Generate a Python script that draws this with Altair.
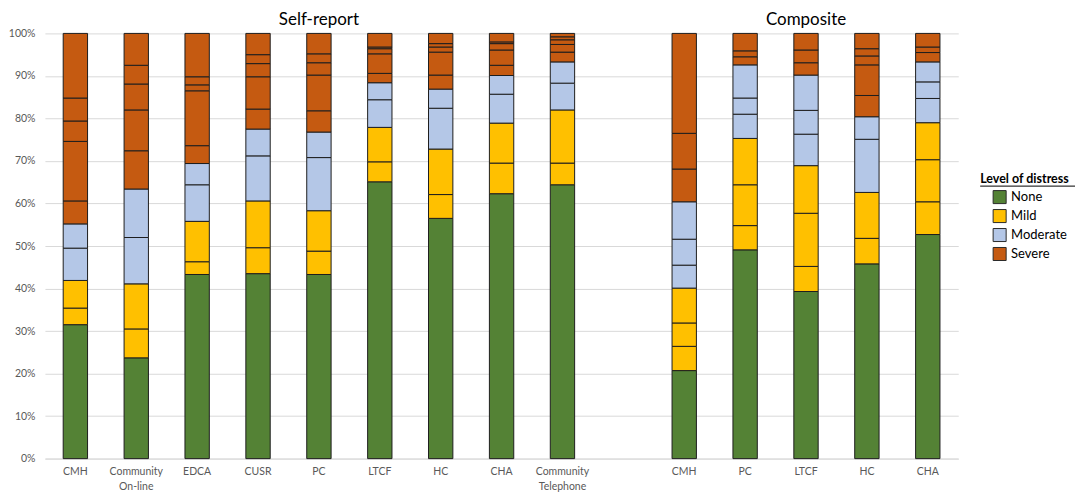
import json
import altair as alt
import pandas as pd

# ---- data ----
levels = ["None", "Mild", "Moderate", "Severe"]
colors = ["#548235", "#FFC000", "#B4C7E7", "#C55A11"]

self_labels = ["CMH", "Community\nOn-line", "EDCA", "CUSR", "PC", "LTCF", "HC", "CHA", "Community\nTelephone"]
comp_labels = ["CMH", "PC", "LTCF", "HC", "CHA"]
group_titles = ["Self-report", "Composite"]

self_none = [31.5, 23.7, 43.3, 43.5, 43.3, 65.1, 56.5, 62.3, 64.4]
self_mild = [[3.9, 6.5], [6.8, 10.6], [3.0, 9.5], [6.1, 11.0], [5.5, 9.5],
             [4.7, 8.1], [5.6, 10.7], [7.2, 9.4], [5.1, 12.5]]
self_moderate = [[7.6, 5.7], [10.9, 11.4], [8.6, 5.0], [10.6, 6.3], [12.5, 6.0],
                 [6.5, 4.0], [9.6, 4.5], [6.8, 4.4], [6.3, 5.0]]
self_severe = [[5.4, 14.0, 4.8, 5.4, 15.2], [9.0, 9.6, 6.1, 4.4, 7.5],
               [4.2, 12.9, 1.4, 1.9, 10.2], [4.7, 7.6, 3.1, 2.1, 5.0],
               [5.0, 8.4, 2.9, 2.1, 4.8], [2.2, 4.6, 1.2, 0.4, 3.2],
               [3.3, 5.4, 1.2, 0.8, 2.4], [2.4, 3.6, 1.5, 0.4, 2.0],
               [2.3, 1.8, 1.1, 0.7, 0.8]]

comp_none = [20.7, 49.1, 39.3, 45.8, 52.7]
comp_mild = [[5.7, 5.5, 8.2], [5.7, 9.6, 10.9], [5.9, 12.5, 11.2], [6.0, 10.8], [7.7, 9.9, 8.7]]
comp_moderate = [[5.4, 6.1, 8.8], [5.7, 3.8, 7.8], [7.4, 5.6, 8.3], [12.5, 5.3], [5.7, 3.9, 4.7]]
comp_severe = [[7.7, 8.4, 23.5], [1.9, 1.4, 4.1], [2.9, 3.0, 3.9],
               [5.0, 7.2, 2.1, 1.7, 3.6], [2.2, 1.3, 3.2]]

y_ticks = [0, 10, 20, 30, 40, 50, 60, 70, 80, 90, 100]

# ---- build table ----
self_keys = [f"S{i+1}" for i in range(len(self_labels))]
comp_keys = [f"C{i+1}" for i in range(len(comp_labels))]
domain = self_keys + ["gap"] + comp_keys

label_map = {k: l.split("\n") for k, l in zip(self_keys, self_labels)}
label_map.update({k: l.split("\n") for k, l in zip(comp_keys, comp_labels)})
label_map["gap"] = [""]

rows = []
def add(keys, none, mild, moderate, severe):
    for i, k in enumerate(keys):
        order = 0
        segs = [("None", [none[i]])] + [("Mild", mild[i]), ("Moderate", moderate[i]), ("Severe", severe[i])]
        for lev, vals in segs:
            for v in vals:
                rows.append({"key": k, "level": lev, "value": v, "ord": order})
                order += 1

add(self_keys, self_none, self_mild, self_moderate, self_severe)
add(comp_keys, comp_none, comp_mild, comp_moderate, comp_severe)
df = pd.DataFrame(rows)

titles_df = pd.DataFrame({"key": ["S5", "C3"], "text": group_titles})

FONT = "Lato"

xscale = alt.Scale(domain=domain, paddingInner=0.6, paddingOuter=0.3)

bars = alt.Chart(df).mark_bar(stroke="#1e1e1e", strokeWidth=1).encode(
    x=alt.X("key:N", scale=xscale, sort=domain,
            axis=alt.Axis(title=None, labelAngle=0, ticks=False, labelPadding=8, grid=False,
                          labelExpr=json.dumps(label_map) + "[datum.value]",
                          labelLineHeight=15, labelFontSize=10.5, labelColor="#595959",
                          domainColor="#d9d9d9", labelFont=FONT)),
    y=alt.Y("value:Q", stack="zero",
            scale=alt.Scale(domain=[0, 100], nice=False),
            axis=alt.Axis(title=None, values=y_ticks, labelExpr="datum.value + '%'",
                          ticks=False, domain=False, grid=True, gridColor="#d9d9d9",
                          labelPadding=10, labelFontSize=10.5, labelColor="#595959",
                          labelFont=FONT)),
    color=alt.Color("level:N", scale=alt.Scale(domain=levels, range=colors),
                    legend=alt.Legend(title="Level of distress", orient="none",
                                      legendX=937, legendY=140,
                                      titleFont=FONT, titleFontSize=12.5, titleFontWeight="bold",
                                      titleColor="#000", labelFont=FONT, labelFontSize=13,
                                      labelColor="#000", symbolType="square", symbolSize=170,
                                      symbolStrokeColor="#2a2a2a", symbolStrokeWidth=1,
                                      symbolOffset=12, rowPadding=0, titlePadding=4)),
    order=alt.Order("ord:Q", sort="ascending"),
)

titles = alt.Chart(titles_df).mark_text(fontSize=17, font=FONT, color="#000", baseline="middle").encode(
    x=alt.X("key:N", scale=xscale, sort=domain),
    y=alt.value(-13),
    text="text:N",
)

underline = alt.Chart(alt.Data(values=[{}])).mark_rule(color="#000", strokeWidth=1).encode(
    x=alt.value(937), x2=alt.value(1032), y=alt.value(153),
)

chart = alt.layer(bars, titles, underline).properties(
    width=915, height=426,
    padding={"left": 0, "top": 3, "right": 0, "bottom": 0},
).configure_view(stroke=None)

chart.save("out.html", embed_options={"renderer": "svg", "actions": False})
